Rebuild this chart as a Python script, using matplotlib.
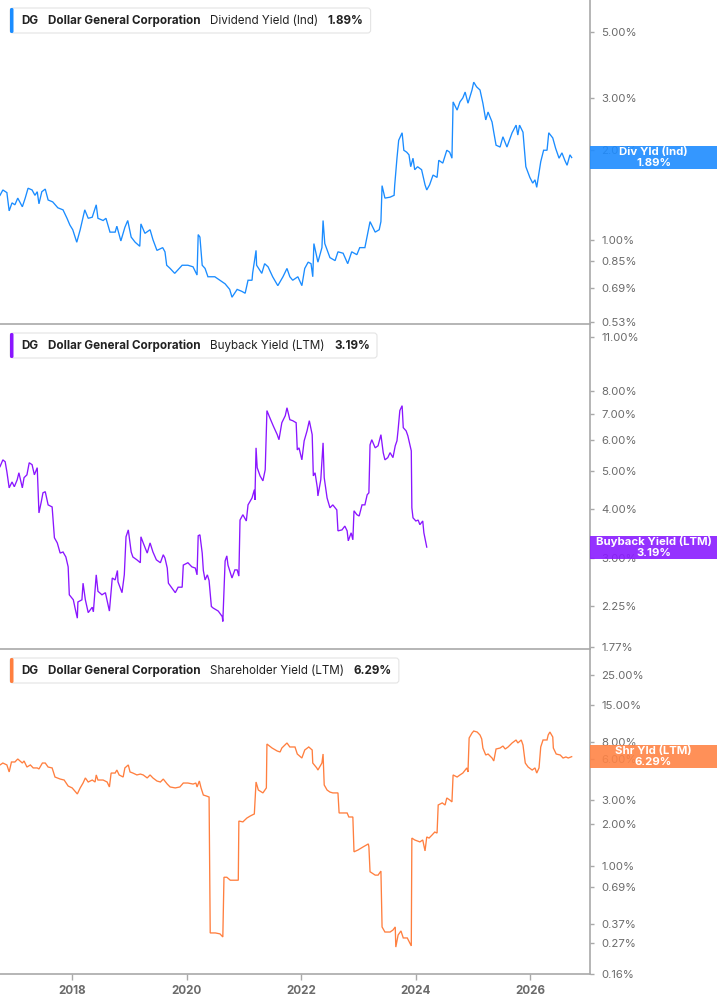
import matplotlib
matplotlib.use("Agg")
import matplotlib.pyplot as plt
from matplotlib.patches import FancyBboxPatch, Rectangle
from matplotlib.transforms import IdentityTransform
from matplotlib.ticker import FixedLocator, FixedFormatter, NullLocator

plt.rcParams['font.family'] = ['Inter', 'DejaVu Sans']

# ---------------- data ----------------
ticker = "DG"
company = "Dollar General Corporation"
metrics = ["Dividend Yield (Ind)", "Buyback Yield (LTM)", "Shareholder Yield (LTM)"]
tag_labels = ["Div Yld (Ind)", "Buyback Yield (LTM)", "Shr Yld (LTM)"]
last_values = [1.89, 3.19, 6.29]

div_t = [2016.74, 2016.79, 2016.86, 2016.90, 2016.95, 2017.00, 2017.05, 2017.13, 2017.18, 2017.23,
         2017.30, 2017.35, 2017.39, 2017.42, 2017.47, 2017.53, 2017.58, 2017.66, 2017.75, 2017.84,
         2017.91, 2017.96, 2018.01, 2018.08, 2018.14, 2018.22, 2018.28, 2018.35, 2018.42, 2018.45,
         2018.54, 2018.59, 2018.66, 2018.75, 2018.78, 2018.85, 2018.92, 2018.97, 2019.03, 2019.10,
         2019.18, 2019.20, 2019.27, 2019.36, 2019.41, 2019.48, 2019.58, 2019.62, 2019.65, 2019.71,
         2019.79, 2019.92, 2020.02, 2020.11, 2020.18, 2020.20, 2020.23, 2020.27, 2020.32, 2020.37,
         2020.49, 2020.58, 2020.67, 2020.75, 2020.79, 2020.88, 2020.96, 2021.02, 2021.07, 2021.14,
         2021.15, 2021.21, 2021.22, 2021.31, 2021.36, 2021.42, 2021.50, 2021.59, 2021.68, 2021.75,
         2021.80, 2021.85, 2021.94, 2022.01, 2022.06, 2022.12, 2022.17, 2022.20, 2022.22, 2022.29,
         2022.36, 2022.38, 2022.41, 2022.50, 2022.59, 2022.64, 2022.73, 2022.81, 2022.88, 2022.97,
         2023.02, 2023.11, 2023.20, 2023.29, 2023.36, 2023.39, 2023.41, 2023.46, 2023.55, 2023.62,
         2023.63, 2023.67, 2023.70, 2023.76, 2023.79, 2023.84, 2023.88, 2023.91, 2023.95, 2023.98,
         2024.03, 2024.10, 2024.16, 2024.19, 2024.24, 2024.30, 2024.37, 2024.40, 2024.47, 2024.54,
         2024.59, 2024.63, 2024.65, 2024.72, 2024.77, 2024.82, 2024.86, 2024.91, 2024.98, 2025.01,
         2025.06, 2025.12, 2025.17, 2025.22, 2025.26, 2025.33, 2025.36, 2025.40, 2025.47, 2025.52,
         2025.59, 2025.68, 2025.75, 2025.78, 2025.81, 2025.87, 2025.92, 2025.99, 2026.04, 2026.08,
         2026.11, 2026.18, 2026.23, 2026.29, 2026.32, 2026.39, 2026.44, 2026.50, 2026.55, 2026.60,
         2026.64, 2026.69, 2026.72]
div_v = [1.41, 1.47, 1.44, 1.25, 1.33, 1.31, 1.38, 1.29, 1.38, 1.49,
         1.47, 1.41, 1.45, 1.32, 1.45, 1.48, 1.36, 1.34, 1.28, 1.26,
         1.18, 1.12, 1.08, 0.98, 1.08, 1.26, 1.18, 1.19, 1.31, 1.18,
         1.16, 1.18, 1.06, 1.06, 1.11, 0.99, 1.10, 1.16, 1.02, 0.98,
         0.95, 1.13, 1.05, 1.08, 1.00, 0.92, 0.94, 0.91, 0.82, 0.80,
         0.77, 0.82, 0.82, 0.81, 0.76, 1.04, 1.02, 0.82, 0.80, 0.75,
         0.75, 0.73, 0.71, 0.68, 0.64, 0.68, 0.67, 0.66, 0.73, 0.73,
         0.77, 0.92, 0.82, 0.77, 0.83, 0.81, 0.75, 0.70, 0.75, 0.80,
         0.75, 0.73, 0.75, 0.70, 0.80, 0.84, 0.83, 0.75, 0.97, 0.84,
         0.94, 1.16, 0.97, 0.87, 0.85, 0.91, 0.90, 0.83, 0.91, 0.89,
         0.94, 0.94, 1.15, 1.06, 1.08, 1.15, 1.52, 1.38, 1.39, 1.41,
         1.52, 1.88, 2.16, 2.29, 2.00, 1.97, 1.93, 1.76, 1.88, 1.72,
         1.76, 1.72, 1.53, 1.47, 1.53, 1.65, 1.62, 1.85, 1.81, 2.00,
         1.97, 1.88, 2.91, 2.73, 2.91, 3.00, 3.14, 2.88, 3.19, 3.39,
         3.27, 3.19, 2.88, 2.53, 2.69, 2.49, 2.30, 2.08, 2.05, 2.22,
         2.05, 2.29, 2.43, 2.25, 2.43, 2.30, 1.76, 1.62, 1.55, 1.59,
         1.50, 1.83, 2.00, 2.00, 2.29, 2.20, 2.03, 1.88, 1.96, 1.85,
         1.78, 1.93, 1.89]

bb_t = [2016.74, 2016.79, 2016.83, 2016.86, 2016.90, 2016.95, 2016.99, 2017.04, 2017.07, 2017.13,
        2017.16, 2017.21, 2017.25, 2017.30, 2017.34, 2017.39, 2017.42, 2017.46, 2017.49, 2017.53,
        2017.58, 2017.65, 2017.69, 2017.74, 2017.79, 2017.84, 2017.89, 2017.93, 2017.95, 2018.02,
        2018.05, 2018.09, 2018.10, 2018.17, 2018.19, 2018.23, 2018.28, 2018.35, 2018.37, 2018.42,
        2018.45, 2018.52, 2018.58, 2018.65, 2018.70, 2018.75, 2018.79, 2018.80, 2018.87, 2018.91,
        2018.94, 2018.98, 2019.03, 2019.06, 2019.13, 2019.19, 2019.20, 2019.24, 2019.31, 2019.36,
        2019.41, 2019.47, 2019.54, 2019.59, 2019.62, 2019.66, 2019.68, 2019.73, 2019.80, 2019.85,
        2019.92, 2019.94, 2020.02, 2020.09, 2020.15, 2020.18, 2020.20, 2020.23, 2020.27, 2020.29,
        2020.32, 2020.36, 2020.39, 2020.43, 2020.46, 2020.55, 2020.62, 2020.63, 2020.67, 2020.70,
        2020.72, 2020.79, 2020.84, 2020.88, 2020.91, 2020.93, 2020.98, 2021.04, 2021.07, 2021.14,
        2021.18, 2021.19, 2021.21, 2021.23, 2021.28, 2021.33, 2021.37, 2021.40, 2021.45, 2021.51,
        2021.58, 2021.61, 2021.66, 2021.72, 2021.75, 2021.80, 2021.85, 2021.91, 2021.93, 2021.96,
        2022.01, 2022.05, 2022.10, 2022.14, 2022.19, 2022.21, 2022.24, 2022.28, 2022.29, 2022.34,
        2022.38, 2022.40, 2022.45, 2022.50, 2022.55, 2022.62, 2022.64, 2022.71, 2022.76, 2022.80,
        2022.82, 2022.87, 2022.90, 2022.92, 2022.97, 2023.01, 2023.06, 2023.11, 2023.15, 2023.18,
        2023.20, 2023.23, 2023.29, 2023.34, 2023.39, 2023.43, 2023.46, 2023.51, 2023.55, 2023.60,
        2023.64, 2023.67, 2023.69, 2023.72, 2023.76, 2023.78, 2023.83, 2023.86, 2023.92, 2023.93,
        2023.95, 2024.00, 2024.04, 2024.07, 2024.12, 2024.14, 2024.17, 2024.19]
bb_v = [5.12, 5.33, 5.27, 4.97, 4.52, 4.68, 4.55, 4.74, 4.94, 4.52,
        4.80, 4.88, 5.24, 5.18, 4.88, 5.09, 3.90, 4.16, 4.39, 4.42,
        4.09, 4.04, 3.37, 3.27, 3.08, 3.10, 3.01, 2.84, 2.41, 2.34,
        2.23, 2.10, 2.31, 2.34, 2.58, 2.34, 2.17, 2.24, 2.18, 2.71,
        2.46, 2.41, 2.44, 2.19, 2.66, 2.63, 2.78, 2.60, 2.44, 2.71,
        3.39, 3.53, 3.10, 3.01, 2.96, 2.91, 3.39, 3.27, 3.08, 3.27,
        3.10, 2.96, 2.91, 3.05, 2.99, 2.82, 2.58, 2.52, 2.44, 2.52,
        2.52, 2.87, 2.91, 2.84, 2.82, 2.71, 3.41, 3.43, 3.08, 2.78,
        2.63, 2.71, 2.62, 2.25, 2.23, 2.19, 2.12, 2.06, 2.94, 3.03,
        2.87, 2.66, 2.79, 2.79, 2.69, 3.74, 3.86, 3.72, 4.09, 4.26,
        4.47, 4.21, 5.72, 5.09, 4.85, 4.71, 5.03, 7.12, 6.83, 6.51,
        6.18, 6.00, 6.63, 6.91, 7.24, 6.75, 6.71, 6.63, 5.65, 5.72,
        5.33, 5.96, 6.32, 6.71, 6.18, 4.85, 4.94, 4.52, 4.31, 4.74,
        5.89, 4.80, 4.26, 4.02, 4.09, 3.97, 3.51, 3.53, 3.61, 3.51,
        3.31, 3.47, 3.33, 3.95, 3.86, 3.83, 4.09, 4.09, 4.34, 4.39,
        5.82, 6.00, 5.72, 5.79, 6.18, 5.56, 5.33, 5.40, 5.56, 5.40,
        5.79, 5.96, 6.36, 7.12, 7.33, 6.44, 6.32, 6.14, 5.62, 4.02,
        3.79, 3.72, 3.74, 3.64, 3.72, 3.47, 3.30, 3.19]

shr_t = [2016.74, 2016.79, 2016.86, 2016.90, 2016.94, 2017.00, 2017.05, 2017.13, 2017.16, 2017.21,
         2017.27, 2017.32, 2017.39, 2017.42, 2017.48, 2017.53, 2017.58, 2017.65, 2017.70, 2017.79,
         2017.86, 2017.93, 2018.00, 2018.09, 2018.14, 2018.19, 2018.23, 2018.28, 2018.35, 2018.40,
         2018.42, 2018.45, 2018.54, 2018.61, 2018.65, 2018.68, 2018.75, 2018.78, 2018.82, 2018.89,
         2018.92, 2018.98, 2019.01, 2019.06, 2019.13, 2019.19, 2019.24, 2019.31, 2019.36, 2019.41,
         2019.48, 2019.54, 2019.59, 2019.66, 2019.71, 2019.80, 2019.88, 2019.94, 2020.02, 2020.11,
         2020.16, 2020.18, 2020.22, 2020.25, 2020.29, 2020.34, 2020.39, 2020.41, 2020.50, 2020.58,
         2020.63, 2020.65, 2020.70, 2020.76, 2020.81, 2020.90, 2020.91, 2020.98, 2021.05, 2021.11,
         2021.18, 2021.21, 2021.25, 2021.33, 2021.39, 2021.40, 2021.49, 2021.58, 2021.63, 2021.66,
         2021.75, 2021.80, 2021.89, 2021.93, 2022.01, 2022.06, 2022.13, 2022.19, 2022.20, 2022.27,
         2022.29, 2022.36, 2022.38, 2022.40, 2022.45, 2022.50, 2022.55, 2022.64, 2022.66, 2022.73,
         2022.80, 2022.83, 2022.90, 2022.92, 2022.99, 2023.08, 2023.17, 2023.18, 2023.20, 2023.29,
         2023.34, 2023.39, 2023.41, 2023.46, 2023.55, 2023.60, 2023.64, 2023.65, 2023.69, 2023.74,
         2023.78, 2023.85, 2023.92, 2023.93, 2023.98, 2024.07, 2024.12, 2024.16, 2024.19, 2024.23,
         2024.28, 2024.33, 2024.37, 2024.39, 2024.46, 2024.51, 2024.54, 2024.59, 2024.63, 2024.65,
         2024.72, 2024.77, 2024.82, 2024.89, 2024.91, 2024.93, 2024.98, 2025.01, 2025.07, 2025.12,
         2025.15, 2025.17, 2025.22, 2025.26, 2025.33, 2025.36, 2025.40, 2025.47, 2025.52, 2025.56,
         2025.61, 2025.68, 2025.75, 2025.78, 2025.84, 2025.87, 2025.91, 2025.96, 2026.03, 2026.08,
         2026.11, 2026.15, 2026.18, 2026.22, 2026.29, 2026.31, 2026.34, 2026.39, 2026.40, 2026.45,
         2026.52, 2026.57, 2026.62, 2026.66, 2026.71, 2026.72]
shr_v = [5.47, 5.65, 5.47, 4.86, 5.75, 5.75, 6.05, 5.65, 5.85, 5.28,
         5.47, 5.20, 5.20, 5.11, 5.65, 5.65, 5.28, 5.20, 4.46, 4.31,
         4.24, 3.83, 3.71, 3.35, 3.71, 4.03, 4.39, 4.10, 4.24, 4.10,
         4.62, 4.24, 4.24, 4.10, 3.77, 4.77, 4.77, 5.02, 4.62, 4.46,
         5.20, 5.47, 4.86, 4.77, 4.62, 4.69, 4.62, 4.39, 4.62, 4.39,
         4.17, 4.10, 4.31, 3.96, 3.77, 3.71, 3.77, 4.03, 4.03, 3.96,
         4.03, 3.77, 4.17, 3.71, 3.29, 3.24, 3.18, 0.320, 0.320, 0.315,
         0.299, 0.82, 0.82, 0.78, 0.78, 0.78, 2.12, 2.09, 2.23, 2.31,
         2.39, 4.10, 3.58, 3.41, 3.71, 7.79, 7.28, 6.92, 6.81, 7.28,
         7.93, 7.41, 7.41, 6.58, 6.15, 7.04, 7.41, 7.04, 5.65, 5.20,
         5.02, 5.65, 6.58, 3.90, 3.58, 3.46, 3.41, 3.41, 2.43, 2.43,
         2.43, 2.27, 2.27, 1.26, 1.30, 1.37, 1.44, 1.37, 0.90, 0.85,
         0.85, 0.91, 0.354, 0.325, 0.325, 0.336, 0.354, 0.252, 0.309, 0.331,
         0.294, 0.294, 0.257, 1.59, 1.54, 1.49, 1.54, 1.28, 1.62, 1.59,
         1.67, 1.76, 1.73, 2.78, 2.88, 2.78, 3.13, 3.03, 2.93, 4.62,
         4.46, 4.62, 4.77, 5.20, 4.86, 8.62, 9.38, 9.70, 9.54, 9.07,
         8.48, 7.28, 6.47, 6.58, 6.15, 5.85, 7.16, 7.28, 7.53, 7.16,
         7.41, 7.93, 8.34, 7.93, 8.34, 7.66, 5.65, 5.28, 5.02, 5.20,
         4.77, 5.20, 7.41, 8.34, 8.34, 9.07, 9.54, 8.77, 7.28, 6.58,
         6.47, 6.15, 6.26, 6.15, 6.26, 6.29]

div_ticks = [0.53, 0.69, 0.85, 1.00, 2.00, 3.00, 5.00]
bb_ticks = [1.77, 2.25, 3.00, 4.00, 5.00, 6.00, 7.00, 8.00, 11.00]
shr_ticks = [0.16, 0.27, 0.37, 0.69, 1.00, 2.00, 3.00, 6.00, 8.00, 15.00, 25.00]
year_ticks = [2018, 2020, 2022, 2024, 2026]

# ---------------- style ----------------
W, H = 717, 1005
line_colors = ["#1a8cff", "#8a16ff", "#ff7f3f"]
tag_colors = ["#1e8cff", "#8a1cff", "#ff8446"]
spine_c = "#a9a9a9"
tick_lab_c = "#6b6b6b"

fig = plt.figure(figsize=(W / 100, H / 100), dpi=100)
fig.patch.set_facecolor("white")

plot_right = 590
panels = [(0, 324), (324, 649), (649, 974)]
ylims = [(0.52, 6.41), (1.752, 11.85), (0.1599, 38.8)]
series = [(div_t, div_v, div_ticks), (bb_t, bb_v, bb_ticks), (shr_t, shr_v, shr_ticks)]
xlim = (2016.74, 2027.04)

axes = []
for i, ((y0, y1), yl, (t, v, ticks)) in enumerate(zip(panels, ylims, series)):
    ax = fig.add_axes([0, 1 - y1 / H, plot_right / W, (y1 - y0) / H])
    ax.set_facecolor("none")
    ax.plot(t, v, color=line_colors[i], lw=0.95, solid_joinstyle="miter")
    ax.set_yscale("log")
    ax.set_ylim(*yl)
    ax.set_xlim(*xlim)
    ax.yaxis.tick_right()
    ax.yaxis.set_major_locator(FixedLocator(ticks))
    ax.yaxis.set_major_formatter(FixedFormatter(["%.2f%%" % k for k in ticks]))
    ax.yaxis.set_minor_locator(NullLocator())
    ax.tick_params(axis="y", which="major", direction="out", length=3, width=1,
                   color=spine_c, labelsize=8.2, labelcolor=tick_lab_c, pad=5)
    for s in ("left", "top"):
        ax.spines[s].set_visible(False)
    for s in ("right", "bottom"):
        ax.spines[s].set_color(spine_c)
        ax.spines[s].set_linewidth(1.2)
    if i < 2:
        ax.tick_params(axis="x", bottom=False, labelbottom=False)
    else:
        ax.set_xticks(year_ticks)
        ax.set_xticklabels([str(y) for y in year_ticks])
        ax.xaxis.set_minor_locator(NullLocator())
        ax.tick_params(axis="x", direction="out", length=4, width=1, color=spine_c,
                       labelsize=8.4, labelcolor=tick_lab_c, pad=4)
        for lab in ax.get_xticklabels():
            lab.set_fontweight("bold")
    axes.append(ax)

ident = IdentityTransform()
renderer = fig.canvas.get_renderer()

# legends (top-left boxes)
legend_tops = [8, 333, 658]
for i, top in enumerate(legend_tops):
    yc = H - (top + 12.5)
    x = 21
    parts = [(ticker, "bold", 10), (company, "bold", 9.5),
             (metrics[i], "normal", 9.5), ("%.2f%%" % last_values[i], "bold", 7)]
    for s, w, gap in parts:
        tx = fig.text(x, yc, s, transform=ident, fontsize=8.4, fontweight=w,
                      color="#222222", ha="left", va="center", zorder=7)
        bb = tx.get_window_extent(renderer)
        x = bb.x1 + gap
    box = FancyBboxPatch((10, H - top - 25), x - 10, 25,
                         boxstyle="round,pad=0,rounding_size=3", transform=ident,
                         fc="white", ec="#e4e4e4", lw=0.8, zorder=5)
    fig.add_artist(box)
    bar = FancyBboxPatch((10, H - top - 25), 3.5, 25,
                         boxstyle="round,pad=0,rounding_size=1.5", transform=ident,
                         fc=line_colors[i], ec="none", zorder=6)
    fig.add_artist(bar)

# right-hand value tags
for i, ax in enumerate(axes):
    yd = ax.transData.transform((xlim[1], last_values[i]))[1]
    rect = Rectangle((plot_right, yd - 11.5), W - plot_right, 23, transform=ident,
                     fc=tag_colors[i], ec="none", alpha=0.9, zorder=5)
    fig.add_artist(rect)
    xc = (plot_right + W) / 2
    fig.text(xc, yd + 5.2, tag_labels[i], transform=ident, fontsize=8.2, fontweight="bold",
             color="white", ha="center", va="center", zorder=6)
    fig.text(xc, yd - 5.8, "%.2f%%" % last_values[i], transform=ident, fontsize=8.2,
             fontweight="bold", color="white", ha="center", va="center", zorder=6)

fig.savefig("out.png", dpi=100, facecolor="white")
